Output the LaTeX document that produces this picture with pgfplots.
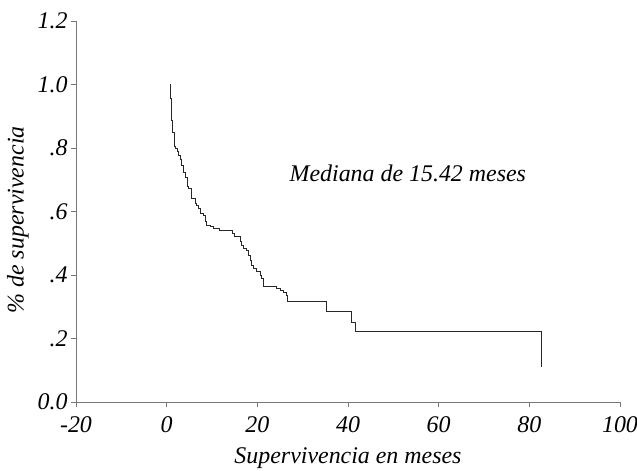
\documentclass[border=0pt]{standalone}
\usepackage{pgfplots}
\pgfplotsset{compat=1.18}
\usepackage{fontspec}
\setmainfont{Liberation Serif}

\definecolor{axisgray}{RGB}{120,120,120}
\definecolor{curve}{RGB}{40,40,40}

\begin{document}
\begin{tikzpicture}
\useasboundingbox (-76bp,-69bp) rectangle (561bp,402bp);
\begin{axis}[
    width=544bp, height=381bp, scale only axis,
    xmin=-20, xmax=100, ymin=0, ymax=1.2,
    axis lines*=left,
    axis line style={axisgray, line width=0.9bp},
    tick style={axisgray, line width=0.9bp},
    tick align=outside,
    major tick length=5bp,
    xtick={-20,0,20,40,60,80,100},
    xticklabels={-20,0,20,40,60,80,100},
    ytick={0,0.2,0.4,0.6,0.8,1.0,1.2},
    yticklabels={0.0,.2,.4,.6,.8,1.0,1.2},
    ticklabel style={font=\fontsize{24}{28}\selectfont\itshape},
    xticklabel style={yshift=-6bp},
    label style={font=\fontsize{24}{28}\selectfont\itshape},
    xlabel={Supervivencia en meses},
    ylabel={\% de supervivencia},
    xlabel style={at={([yshift=-56bp]axis description cs:0.5,0)}, anchor=center},
    ylabel style={at={([xshift=-58bp]axis description cs:0,0.478)}, anchor=center},
    clip=false,
]
\addplot[const plot, curve, line width=0.8bp] coordinates {
    (0.73,1.000) (0.73,0.957) (1.10,0.888) (1.32,0.848) (1.61,0.806)
    (1.90,0.799) (2.27,0.788) (2.65,0.778) (2.93,0.765) (3.31,0.746)
    (3.66,0.724) (4.04,0.706) (4.48,0.680) (4.81,0.674) (5.52,0.642)
    (6.24,0.626) (6.62,0.620) (6.97,0.610) (7.35,0.594) (8.07,0.589)
    (8.45,0.568) (8.82,0.557) (9.55,0.552) (10.21,0.546) (11.65,0.539)
    (14.52,0.531) (14.85,0.521) (16.18,0.505) (16.55,0.494) (16.90,0.484)
    (17.65,0.477) (18.00,0.463) (18.38,0.447) (18.75,0.431) (19.10,0.421)
    (19.85,0.410) (20.58,0.400) (20.96,0.390) (21.31,0.363) (24.22,0.357)
    (24.99,0.353) (25.72,0.346) (26.47,0.337) (26.60,0.318) (35.30,0.284)
    (40.66,0.250) (41.54,0.221) (82.57,0.221) (82.57,0.109)
};
\node[font=\fontsize{24}{28}\selectfont\itshape] at (axis cs:53.2,0.721) {Mediana de 15.42 meses};
\end{axis}
\end{tikzpicture}
\end{document}
